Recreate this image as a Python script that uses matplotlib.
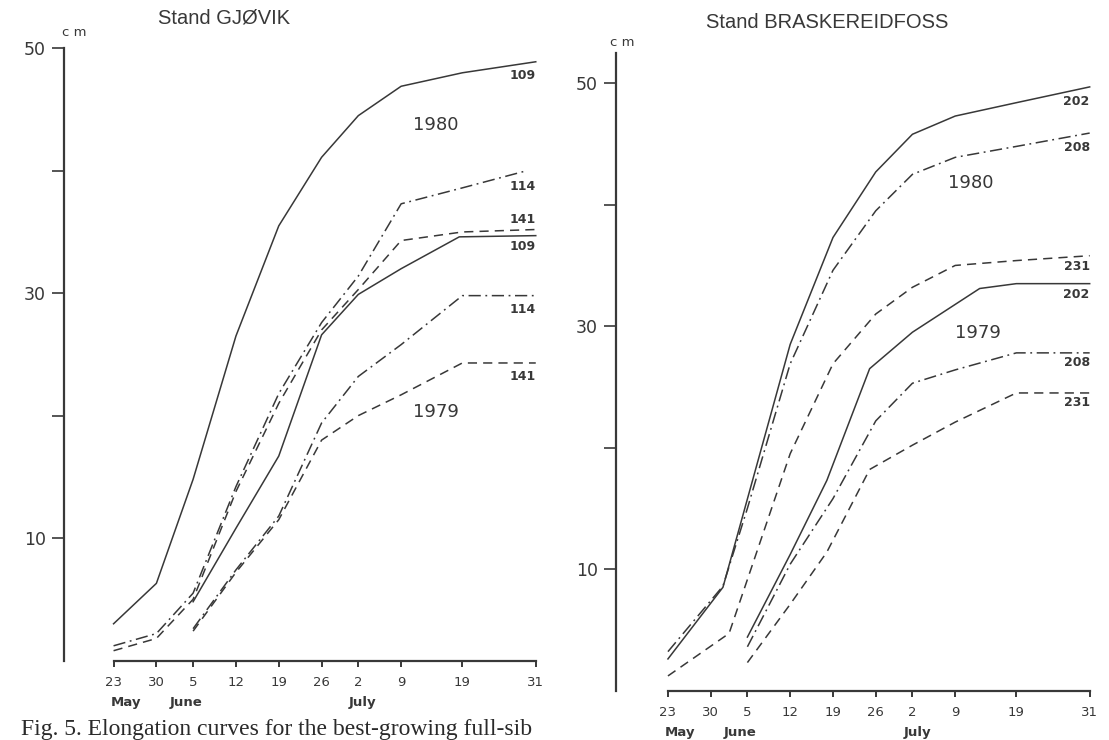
import matplotlib
matplotlib.use("Agg")
import matplotlib.pyplot as plt

# Tick positions are days after 23 May
tick_days = [0, 7, 13, 20, 27, 34, 40, 47, 57, 69]
tick_labels = ["23", "30", "5", "12", "19", "26", "2", "9", "19", "31"]
months = ["May", "June", "July"]
month_days = [-0.5, 9.2, 38.5]

# Stand GJOVIK
gj_80_109_x = [0, 7, 13, 20, 27, 34, 40, 47, 57, 69]
gj_80_109_y = [3.0, 6.3, 14.8, 26.5, 35.5, 41.1, 44.5, 46.9, 48.0, 48.9]
gj_80_114_x = [0, 7, 13, 20, 27, 34, 40, 47, 57, 67.5]
gj_80_114_y = [1.2, 2.2, 5.5, 14.2, 21.8, 27.6, 31.4, 37.3, 38.6, 40.0]
gj_80_141_x = [0, 7, 13, 20, 27, 34, 40, 47, 57, 69]
gj_80_141_y = [0.8, 1.8, 5.0, 13.8, 21.0, 27.0, 30.3, 34.3, 35.0, 35.2]
gj_79_109_x = [13, 20, 27, 34, 40, 47, 56.5, 69]
gj_79_109_y = [4.8, 10.8, 16.7, 26.6, 29.9, 32.0, 34.6, 34.7]
gj_79_114_x = [13, 20, 27, 34, 40, 47, 57, 69]
gj_79_114_y = [2.6, 7.4, 11.8, 19.4, 23.2, 25.8, 29.8, 29.8]
gj_79_141_x = [13, 20, 27, 34, 40, 47, 57, 69]
gj_79_141_y = [2.4, 7.2, 11.5, 18.0, 20.0, 21.7, 24.3, 24.3]

# Stand BRASKEREIDFOSS
br_80_202_x = [0, 9, 20, 27, 34, 40, 47, 57, 69]
br_80_202_y = [2.6, 8.5, 28.5, 37.3, 42.7, 45.8, 47.3, 48.4, 49.7]
br_80_208_x = [0, 9, 13, 20, 27, 34, 40, 47, 57, 69]
br_80_208_y = [3.2, 8.6, 15.0, 26.9, 34.6, 39.5, 42.5, 43.9, 44.8, 45.9]
br_80_231_x = [0, 10, 20, 27, 34, 40, 47, 57, 69]
br_80_231_y = [1.2, 4.7, 19.5, 26.9, 31.0, 33.2, 35.0, 35.4, 35.8]
br_79_202_x = [13, 20, 26, 33, 40, 51, 57, 69]
br_79_202_y = [4.4, 11.2, 17.3, 26.5, 29.5, 33.1, 33.5, 33.5]
br_79_208_x = [13, 20, 27, 34, 40, 47, 57, 69]
br_79_208_y = [3.6, 10.4, 15.8, 22.2, 25.3, 26.4, 27.8, 27.8]
br_79_231_x = [13, 20, 26, 33, 40, 47, 57, 69]
br_79_231_y = [2.3, 7.1, 11.4, 18.2, 20.2, 22.1, 24.5, 24.5]

# curve labels: (text, y value at right end)
gj_labels = [("109", 47.8), ("114", 38.7), ("141", 36.0),
             ("109", 33.8), ("114", 28.7), ("141", 23.2)]
br_labels = [("202", 48.5), ("208", 44.7), ("231", 34.9),
             ("202", 32.6), ("208", 27.0), ("231", 23.7)]
gj_years = [("1980", 52.7, 43.7), ("1979", 52.7, 20.3)]
br_years = [("1980", 49.6, 41.8), ("1979", 50.7, 29.4)]

INK = "#383838"
SOLID = "-"
DASH = (0, (6, 4))
DASHDOT = (0, (8, 3, 1.2, 3))

fig = plt.figure(figsize=(11.09, 7.4), dpi=100)
fig.patch.set_facecolor("white")


def setup_axes(ax, ymax, xmin):
    ax.set_xlim(xmin, 71)
    ax.set_ylim(0, ymax)
    ax.spines["top"].set_visible(False)
    ax.spines["right"].set_visible(False)
    ax.spines["left"].set_bounds(0, ymax)
    ax.spines["bottom"].set_bounds(0, 69)
    for s in ("left", "bottom"):
        ax.spines[s].set_linewidth(1.6)
        ax.spines[s].set_color(INK)
    ax.set_xticks(tick_days)
    ax.set_xticklabels(tick_labels, fontsize=9.5, color=INK)
    ax.set_yticks([10, 20, 30, 40, 50])
    ax.set_yticklabels(["10", "", "30", "", "50"], fontsize=12.5, color=INK)
    ax.tick_params(axis="x", direction="out", length=4.5, width=1.4,
                   pad=7, color=INK)
    ax.tick_params(axis="y", direction="out", length=9, width=1.2,
                   pad=4, color=INK)
    for m, d in zip(months, month_days):
        ax.annotate(m, xy=(d, 0), xycoords=("data", "axes fraction"),
                    xytext=(0, -30), textcoords="offset points",
                    ha="left", va="center", fontsize=9.5,
                    fontweight="bold", color=INK)


def draw(ax, x, y, ls):
    ax.plot(x, y, color=INK, lw=1.1, linestyle=ls)


# left panel
ax1 = fig.add_axes([64 / 1109, 79.5 / 740, 484 / 1109, 612.2 / 740])
setup_axes(ax1, 50, -8.1)
draw(ax1, gj_80_109_x, gj_80_109_y, SOLID)
draw(ax1, gj_80_114_x, gj_80_114_y, DASHDOT)
draw(ax1, gj_80_141_x, gj_80_141_y, DASH)
draw(ax1, gj_79_109_x, gj_79_109_y, SOLID)
draw(ax1, gj_79_114_x, gj_79_114_y, DASHDOT)
draw(ax1, gj_79_141_x, gj_79_141_y, DASH)
for txt, yv in gj_labels:
    ax1.text(69, yv, txt, ha="right", va="center", fontsize=9,
             fontweight="bold", color=INK)
for txt, xv, yv in gj_years:
    ax1.text(xv, yv, txt, ha="center", va="center", fontsize=13, color=INK)

# right panel
ax2 = fig.add_axes([616 / 1109, 49.5 / 740, 485.9 / 1109, 637.6 / 740])
setup_axes(ax2, 52.5, -8.5)
draw(ax2, br_80_202_x, br_80_202_y, SOLID)
draw(ax2, br_80_208_x, br_80_208_y, DASHDOT)
draw(ax2, br_80_231_x, br_80_231_y, DASH)
draw(ax2, br_79_202_x, br_79_202_y, SOLID)
draw(ax2, br_79_208_x, br_79_208_y, DASHDOT)
draw(ax2, br_79_231_x, br_79_231_y, DASH)
for txt, yv in br_labels:
    ax2.text(69, yv, txt, ha="right", va="center", fontsize=9,
             fontweight="bold", color=INK)
for txt, xv, yv in br_years:
    ax2.text(xv, yv, txt, ha="center", va="center", fontsize=13, color=INK)

# titles, units and caption
fig.text(224 / 1109, 1 - 18 / 740, "Stand GJØVIK", ha="center", va="center",
         fontsize=14.5, family="Liberation Sans", color=INK)
fig.text(827 / 1109, 1 - 22 / 740, "Stand BRASKEREIDFOSS", ha="center",
         va="center", fontsize=14.5, family="Liberation Sans", color=INK)
fig.text(74 / 1109, 1 - 33 / 740, "c m", ha="center", va="center",
         fontsize=9.5, color=INK)
fig.text(622 / 1109, 1 - 43 / 740, "c m", ha="center", va="center",
         fontsize=9.5, color=INK)
fig.text(21 / 1109, 1 - 729 / 740,
         "Fig. 5. Elongation curves for the best-growing full-sib",
         ha="left", va="center", fontsize=17, family="Liberation Serif",
         color="#2a2a2a")

fig.savefig("out.png", dpi=100)
